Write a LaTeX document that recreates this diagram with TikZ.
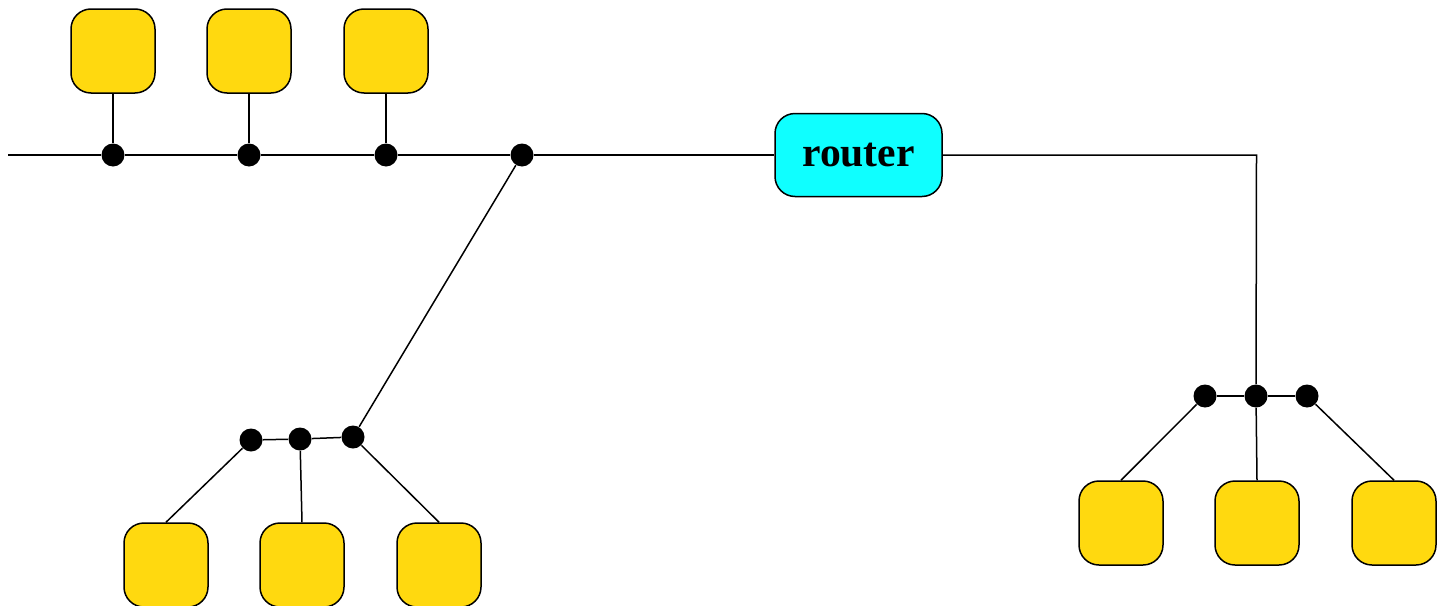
\documentclass[tikz,border=0pt]{standalone}
\usepackage{fontspec}
\setmainfont{Liberation Serif}
\definecolor{hostyellow}{HTML}{FFD90F}
\definecolor{routercyan}{HTML}{0FFFFF}
\begin{document}
\begin{tikzpicture}[x=0.5pt,y=-0.5pt,
  host/.style={draw=black,line width=0.75pt,fill=hostyellow,rounded corners=10pt,
    minimum width=42pt,minimum height=42pt,inner sep=0pt},
  routerbox/.style={draw=black,line width=0.75pt,fill=routercyan,rounded corners=10pt,
    minimum width=83.5pt,minimum height=41.5pt,inner sep=0pt,
    font=\fontsize{20.8}{24}\selectfont\bfseries},
  tap/.style={circle,fill=black,minimum size=11.5pt,inner sep=0pt},
  wire/.style={line width=0.75pt}]
\useasboundingbox (0,0) rectangle (1445,605);

% main segment
\coordinate (busend) at (8,155);
\node[tap] (t1) at (113,155) {};
\node[tap] (t2) at (249,155) {};
\node[tap] (t3) at (386,155) {};
\node[tap] (t4) at (522,155) {};
\node[routerbox] (router) at (858.5,155) {router};
\node[host] (h1) at (113,51) {};
\node[host] (h2) at (249,51) {};
\node[host] (h3) at (386,51) {};

% lower left segment
\node[tap] (l1) at (251,440) {};
\node[tap] (l2) at (300,439) {};
\node[tap] (l3) at (353,437) {};
\node[host] (lh1) at (166,565) {};
\node[host] (lh2) at (302,565) {};
\node[host] (lh3) at (439,565) {};

% right segment
\coordinate (bend) at (1256.5,155);
\node[tap] (r1) at (1205,396) {};
\node[tap] (r2) at (1256,396) {};
\node[tap] (r3) at (1307,396) {};
\node[host] (rh1) at (1121,523) {};
\node[host] (rh2) at (1257,523) {};
\node[host] (rh3) at (1394,523) {};

% wiring
\draw[wire] (busend) -- (t1) -- (t2) -- (t3) -- (t4) -- (router);
\draw[wire] (h1) -- (t1);
\draw[wire] (h2) -- (t2);
\draw[wire] (h3) -- (t3);
\draw[wire] (t4) -- (l3);
\draw[wire] (l1) -- (l2) -- (l3);
\draw[wire] (l1) -- (lh1.north);
\draw[wire] (l2) -- (lh2.north);
\draw[wire] (l3) -- (lh3.north);
\draw[wire] (router) -- (bend) -- (r2);
\draw[wire] (r1) -- (r2) -- (r3);
\draw[wire] (r1) -- (rh1.north);
\draw[wire] (r2) -- (rh2.north);
\draw[wire] (r3) -- (rh3.north);
\end{tikzpicture}
\end{document}
